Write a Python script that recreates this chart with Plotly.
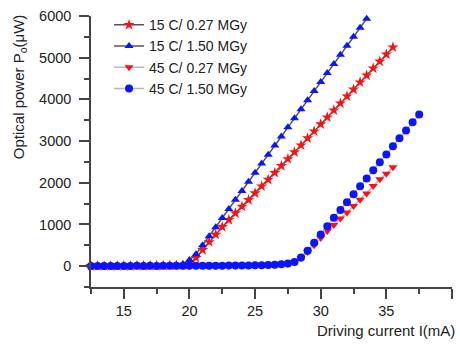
import plotly.graph_objects as go

current = [12.5, 13.0, 13.5, 14.0, 14.5, 15.0, 15.5, 16.0, 16.5, 17.0,
           17.5, 18.0, 18.5, 19.0, 19.5, 20.0, 20.5, 21.0, 21.5, 22.0,
           22.5, 23.0, 23.5, 24.0, 24.5, 25.0, 25.5, 26.0, 26.5, 27.0,
           27.5, 28.0, 28.5, 29.0, 29.5, 30.0, 30.5, 31.0, 31.5, 32.0,
           32.5, 33.0, 33.5, 34.0, 34.5, 35.0, 35.5, 36.0, 36.5, 37.0, 37.5]

p_15c_027 = [5, 6, 4, 7, 6, 8, 7, 9, 8, 10, 9, 12, 14, 18, 25, 60,
             200, 390, 580, 760, 940, 1110, 1270, 1430, 1590, 1750, 1915, 2075,
             2240, 2405, 2570, 2735, 2900, 3070, 3235, 3405, 3570, 3740, 3905,
             4075, 4240, 4410, 4575, 4745, 4910, 5080, 5250]

p_15c_150 = [8, 9, 7, 10, 9, 11, 10, 12, 11, 13, 12, 15, 18, 25, 45, 150,
             285, 500, 718, 935, 1155, 1370, 1590, 1805, 2025, 2240, 2460, 2675,
             2895, 3110, 3330, 3545, 3765, 3980, 4200, 4415, 4635, 4850, 5068,
             5285, 5505, 5720, 5935]

p_45c_027 = [2, 3, 2, 4, 3, 4, 3, 5, 4, 5, 4, 6, 5, 7, 6, 8,
             7, 9, 8, 10, 10, 12, 12, 14, 15, 18, 20, 22, 25, 40,
             55, 90, 190, 340, 500, 675, 845, 990, 1145, 1285, 1440, 1590,
             1745, 1920, 2085, 2215, 2375]

p_45c_150 = [4, 5, 4, 6, 5, 6, 5, 7, 6, 7, 6, 8, 7, 9, 8, 10,
             9, 11, 10, 12, 12, 14, 14, 16, 18, 20, 24, 28, 32, 45,
             62, 100, 210, 370, 560, 760, 960, 1160, 1345, 1530, 1725, 1915,
             2105, 2300, 2490, 2680, 2875, 3065, 3255, 3450, 3640]

series = [
    ("15 C/ 0.27 MGy", p_15c_027, "star", "#ff1010", "#555555", 8.5),
    ("15 C/ 1.50 MGy", p_15c_150, "triangle-up", "#0a14ff", "#555555", 8),
    ("45 C/ 0.27 MGy", p_45c_027, "triangle-down", "#ff1010", "#b8b8b8", 8),
    ("45 C/ 1.50 MGy", p_45c_150, "circle", "#0a14ff", "#b8b8b8", 8),
]

fig = go.Figure()
for name, vals, sym, mcol, lcol, msize in series:
    fig.add_trace(go.Scatter(
        x=current[:len(vals)], y=vals, name=name, mode="lines+markers",
        line=dict(color=lcol, width=1.5),
        marker=dict(symbol=sym, color=mcol, size=msize, line=dict(width=0)),
        cliponaxis=False,
    ))

font_family = "Liberation Sans, Arial, sans-serif"
axis_common = dict(
    showline=True, linecolor="#444444", linewidth=1.5, showgrid=False,
    zeroline=False, ticks="outside", ticklen=10, tickwidth=1.5,
    tickcolor="#444444", tickfont=dict(size=14.5, color="#222222"),
)

fig.update_xaxes(range=[12.5, 40], dtick=5, tick0=0,
                 minor=dict(dtick=2.5, tick0=0, ticks="outside", ticklen=5,
                            tickwidth=1.5, tickcolor="#444444"),
                 **axis_common)
fig.update_yaxes(range=[-500, 6000], dtick=1000, tick0=0, ticklabelstandoff=5,
                 minor=dict(dtick=500, tick0=0, ticks="outside", ticklen=5,
                            tickwidth=1.5, tickcolor="#444444"),
                 **axis_common)

fig.update_layout(
    width=460, height=345,
    margin=dict(l=91, r=8, t=16, b=58),
    paper_bgcolor="white", plot_bgcolor="white",
    font=dict(family=font_family, size=14.5, color="#222222"),
    showlegend=True,
    legend=dict(x=0.05, y=1.025, xanchor="left", yanchor="top",
                bgcolor="rgba(0,0,0,0)", font=dict(size=14),
                tracegroupgap=0),
    annotations=[
        dict(text="Optical power P<sub>o</sub>(μW)", textangle=-90,
             xref="paper", yref="paper", x=-0.199, y=0.738,
             xanchor="center", yanchor="middle", showarrow=False,
             font=dict(size=15)),
        dict(text="Driving current I(mA)",
             xref="paper", yref="paper", x=1.014, y=-0.159,
             xanchor="right", yanchor="middle", showarrow=False,
             font=dict(size=15)),
    ],
)

fig.write_html("out.html")
